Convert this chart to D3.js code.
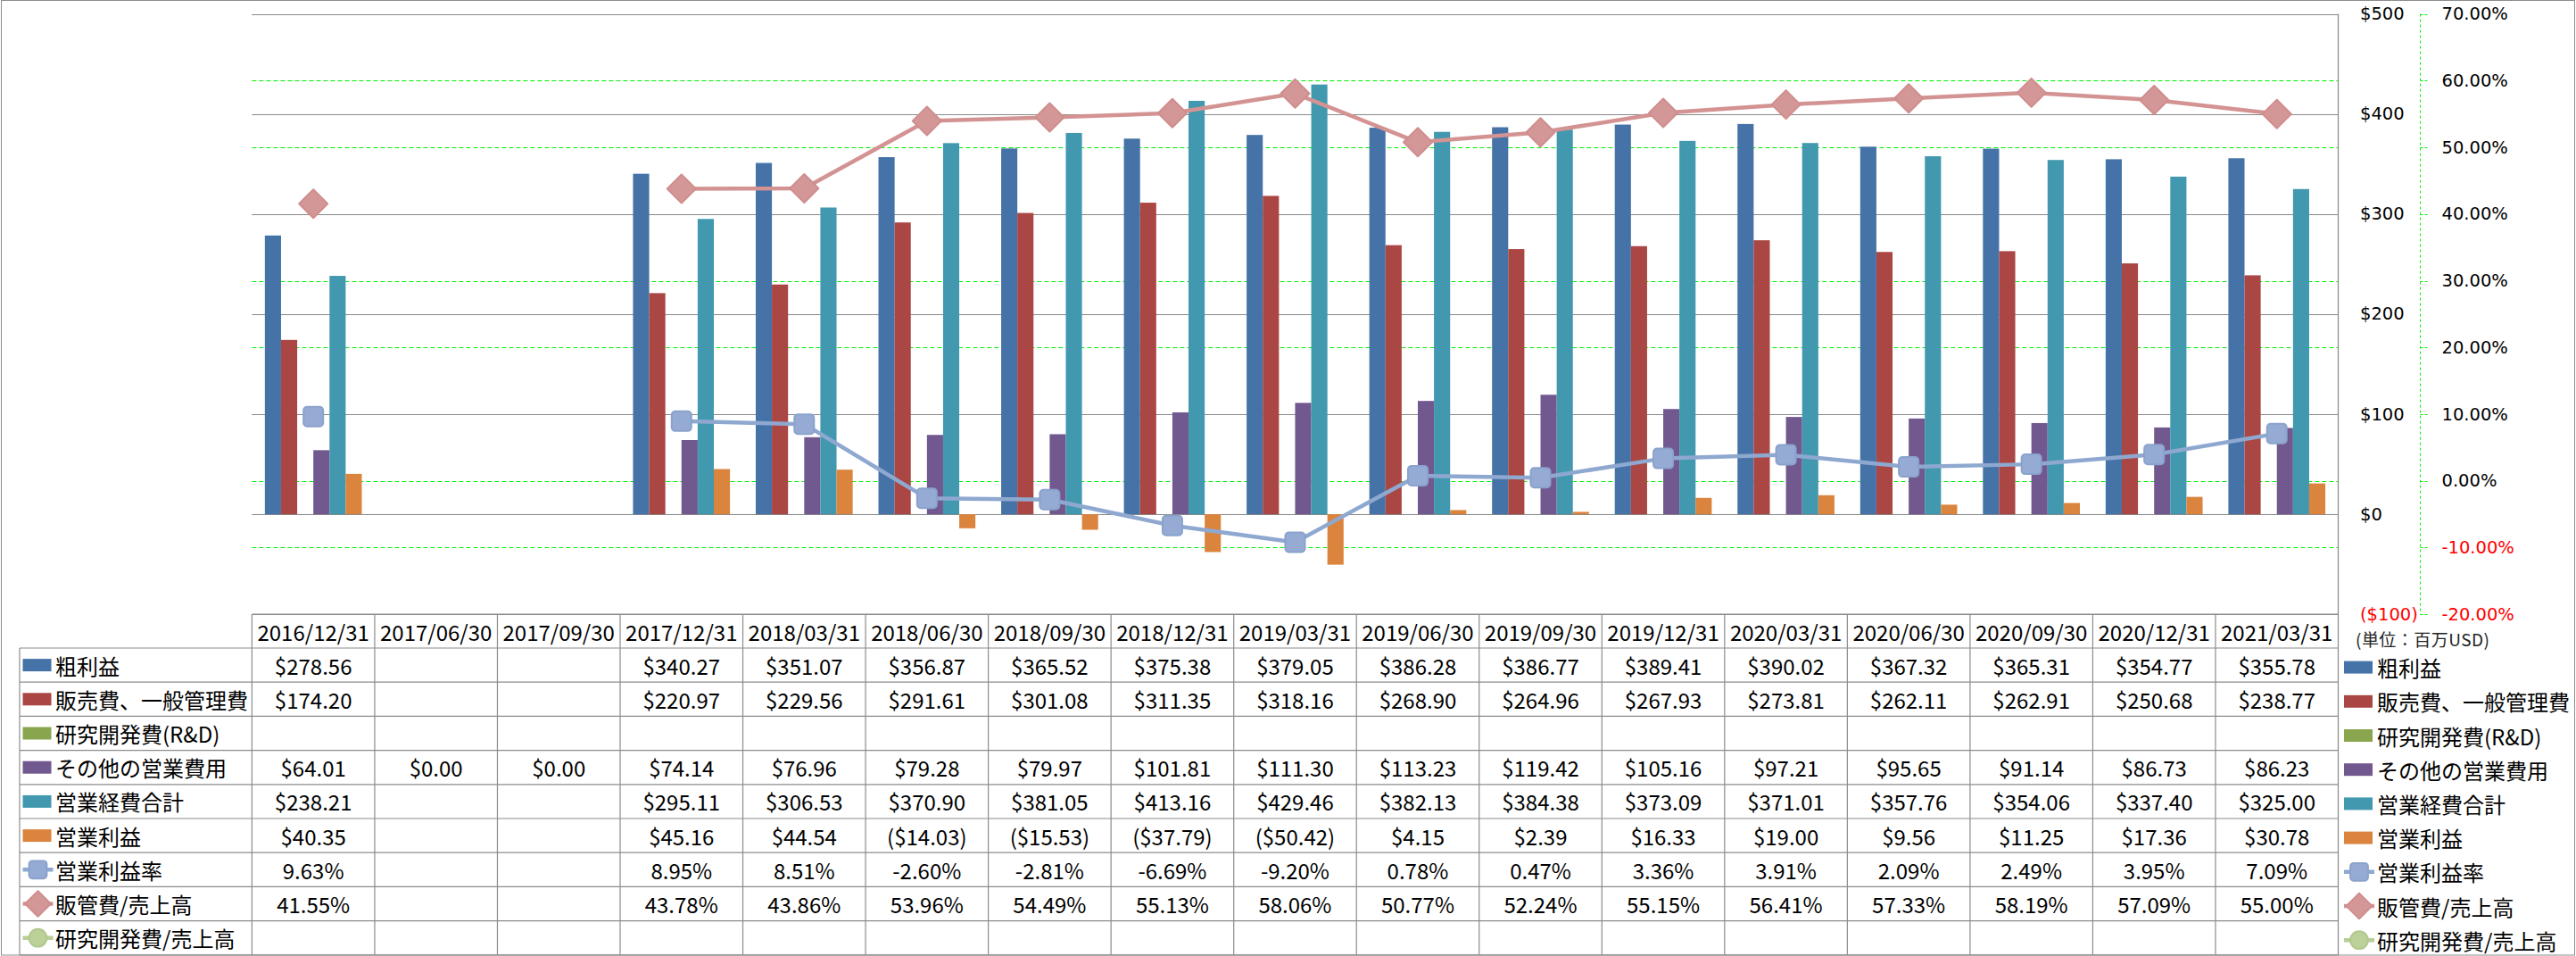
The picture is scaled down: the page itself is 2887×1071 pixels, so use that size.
<!DOCTYPE html>
<html><head><meta charset="utf-8">
<script src="https://cdn.jsdelivr.net/npm/d3@7"></script>
<style>
html,body{margin:0;padding:0;background:#fff;}
svg{display:block;}
</style></head>
<body>
<svg id="chart" width="2887" height="1071"></svg>
<script>
// ---------- DATA ----------
const categories = ["2016/12/31","2017/06/30","2017/09/30","2017/12/31","2018/03/31","2018/06/30","2018/09/30","2018/12/31","2019/03/31","2019/06/30","2019/09/30","2019/12/31","2020/03/31","2020/06/30","2020/09/30","2020/12/31","2021/03/31"];
const seriesNames = ["粗利益","販売費、一般管理費","研究開発費(R&D)","その他の営業費用","営業経費合計","営業利益","営業利益率","販管費/売上高","研究開発費/売上高"];
const grossProfit = [278.56,null,null,340.27,351.07,356.87,365.52,375.38,379.05,386.28,386.77,389.41,390.02,367.32,365.31,354.77,355.78];
const sgaExpense  = [174.20,null,null,220.97,229.56,291.61,301.08,311.35,318.16,268.90,264.96,267.93,273.81,262.11,262.91,250.68,238.77];
const rndExpense  = [null,null,null,null,null,null,null,null,null,null,null,null,null,null,null,null,null];
const otherOpex   = [64.01,0.00,0.00,74.14,76.96,79.28,79.97,101.81,111.30,113.23,119.42,105.16,97.21,95.65,91.14,86.73,86.23];
const totalOpex   = [238.21,null,null,295.11,306.53,370.90,381.05,413.16,429.46,382.13,384.38,373.09,371.01,357.76,354.06,337.40,325.00];
const opIncome    = [40.35,null,null,45.16,44.54,-14.03,-15.53,-37.79,-50.42,4.15,2.39,16.33,19.00,9.56,11.25,17.36,30.78];
const opMargin    = [9.63,null,null,8.95,8.51,-2.60,-2.81,-6.69,-9.20,0.78,0.47,3.36,3.91,2.09,2.49,3.95,7.09];
const sgaRatio    = [41.55,null,null,43.78,43.86,53.96,54.49,55.13,58.06,50.77,52.24,55.15,56.41,57.33,58.19,57.09,55.00];
const rndRatio    = [null,null,null,null,null,null,null,null,null,null,null,null,null,null,null,null,null];
const usdTicks = [-100,0,100,200,300,400,500];
const pctTicks = [-20,-10,0,10,20,30,40,50,60,70];
const unitLabel = "(単位：百万USD)";

// ---------- STYLE / LAYOUT ----------
const barColors = ["#4572A7","#AA4643","#89A54E","#71588F","#4198AF","#DB843D"];
const lineColors = ["#8EA8D0","#D39392","#B9CD96"];
const markerFill = ["#95ABD3","#D49797","#BCD09A"];
const markerStroke = ["#8AA2CC","#CF8E8D","#B3C88E"];
const markerType = ["square","diamond","circle"];
const gridGray = "#898989";
const tableGray = "#8C8C8C";
const green = "#00F000";
const cjk = "'Noto Sans CJK JP','Noto Sans CJK SC',sans-serif";

const plotL = 282.4, plotR = 2620.5, plotT = 15.6, plotB = 688.2;
const rowTop = 726, rowH = 38.2;

const barSeries = [grossProfit, sgaExpense, rndExpense, otherOpex, totalOpex, opIncome];
const lineSeries = [opMargin, sgaRatio, rndRatio];

const svg = d3.select("#chart");

const x0 = d3.scaleBand().domain(categories).range([plotL, plotR]).paddingInner(0.21).paddingOuter(0.105);
const x1 = d3.scaleBand().domain(d3.range(barSeries.length)).range([0, x0.bandwidth()]).padding(0);
const yL = d3.scaleLinear().domain([-100, 500]).range([plotB, plotT]);
const yR = d3.scaleLinear().domain([-20, 70]).range([plotB, plotT]);
const xc = c => x0(c) + x0.bandwidth() / 2;

// outer border
svg.append("rect").attr("x",1.5).attr("y",0.5).attr("width",2884).attr("height",1069.5)
  .attr("fill","none").attr("stroke","#8c8c8c").attr("stroke-width",1);

// green dashed gridlines (secondary axis)
svg.append("g").selectAll("line").data(pctTicks).join("line")
  .attr("x1",plotL).attr("x2",plotR)
  .attr("y1",d=>Math.round(yR(d))+0.5).attr("y2",d=>Math.round(yR(d))+0.5)
  .attr("stroke",green).attr("stroke-width",1.2).attr("stroke-dasharray","5,3");

// gray gridlines (primary axis)
svg.append("g").selectAll("line").data(usdTicks).join("line")
  .attr("x1",plotL).attr("x2",plotR)
  .attr("y1",d=>Math.round(yL(d))+0.5).attr("y2",d=>Math.round(yL(d))+0.5)
  .attr("stroke",gridGray).attr("stroke-width",1.2);

// right vertical border of plot + table
svg.append("line").attr("x1",plotR).attr("x2",plotR).attr("y1",plotT).attr("y2",1070)
  .attr("stroke",gridGray).attr("stroke-width",1.2);

// bars
const barG = svg.append("g");
barSeries.forEach((arr, si) => {
  barG.append("g").selectAll("rect")
    .data(categories.map((c,i)=>({c, v:arr[i]})).filter(d=>d.v!==null))
    .join("rect")
    .attr("x", d => x0(d.c) + x1(si))
    .attr("width", x1.bandwidth())
    .attr("y", d => yL(Math.max(0,d.v)))
    .attr("height", d => Math.abs(yL(d.v) - yL(0)))
    .attr("fill", barColors[si]);
});

// marker drawing helper
function drawMarker(g, type, cx, cy, k, scale=1){
  if(type==="square"){
    const s = 22*scale;
    g.append("rect").attr("x",cx-s/2).attr("y",cy-s/2).attr("width",s).attr("height",s)
      .attr("rx",4*scale).attr("fill",markerFill[k]).attr("stroke",markerStroke[k]).attr("stroke-width",2);
  } else if(type==="diamond"){
    const r = 16*scale;
    g.append("path").attr("d",`M${cx},${cy-r}L${cx+r},${cy}L${cx},${cy+r}L${cx-r},${cy}Z`)
      .attr("fill",markerFill[k]).attr("stroke",markerStroke[k]).attr("stroke-width",2).attr("stroke-linejoin","round");
  } else {
    g.append("circle").attr("cx",cx).attr("cy",cy).attr("r",11*scale)
      .attr("fill",markerFill[k]).attr("stroke",markerStroke[k]).attr("stroke-width",2);
  }
}

// lines (secondary axis)
const lineGen = d3.line().defined(d=>d.v!==null).x(d=>xc(d.c)).y(d=>yR(d.v));
lineSeries.forEach((arr,k)=>{
  const pts = categories.map((c,i)=>({c, v:arr[i]}));
  svg.append("path").datum(pts).attr("d",lineGen).attr("fill","none")
    .attr("stroke",lineColors[k]).attr("stroke-width",4.5).attr("stroke-linejoin","round");
  const mg = svg.append("g");
  pts.filter(d=>d.v!==null).forEach(d=>drawMarker(mg, markerType[k], xc(d.c), yR(d.v), k));
});

// secondary axis line (green dashed) with ticks
const axG = svg.append("g");
axG.append("line").attr("x1",2712.5).attr("x2",2712.5).attr("y1",plotT).attr("y2",plotB)
  .attr("stroke",green).attr("stroke-width",1).attr("stroke-dasharray","3,3");
axG.selectAll("line.t").data(pctTicks).join("line").attr("class","t")
  .attr("x1",2712.5).attr("x2",2721).attr("y1",d=>Math.round(yR(d))+0.5).attr("y2",d=>Math.round(yR(d))+0.5)
  .attr("stroke",green).attr("stroke-width",1).attr("stroke-dasharray","3,2");

// axis labels
const fmtUsdTick = v => v < 0 ? `($${Math.abs(v)})` : `$${v}`;
svg.append("g").selectAll("text").data(usdTicks).join("text")
  .attr("x",2645).attr("y",d=>yL(d)).attr("dominant-baseline","central")
  .attr("font-family","'DejaVu Sans',Verdana,sans-serif").attr("font-size",19.5)
  .attr("fill",d=>d<0?"#FF0000":"#000").text(fmtUsdTick);
svg.append("g").selectAll("text").data(pctTicks).join("text")
  .attr("x",2736.5).attr("y",d=>yR(d)).attr("dominant-baseline","central")
  .attr("font-family","'DejaVu Sans',Verdana,sans-serif").attr("font-size",19.5)
  .attr("fill",d=>d<0?"#FF0000":"#000").text(d=>d.toFixed(2)+"%");

// ---------- DATA TABLE ----------
const tg = svg.append("g");
const tableBottom = rowTop + rowH*seriesNames.length;
tg.append("line").attr("x1",plotL).attr("x2",plotR).attr("y1",plotB).attr("y2",plotB)
  .attr("stroke",tableGray).attr("stroke-width",1.2);
d3.range(seriesNames.length+1).forEach(i=>{
  const yy = rowTop + rowH*i;
  tg.append("line").attr("x1",22).attr("x2",plotR).attr("y1",yy).attr("y2",yy)
    .attr("stroke",tableGray).attr("stroke-width",1.2);
});
tg.append("line").attr("x1",22).attr("x2",22).attr("y1",rowTop).attr("y2",tableBottom)
  .attr("stroke",tableGray).attr("stroke-width",1.2);
categories.forEach(c=>{
  const vx = x0(c)-x0.step()*0.105;
  tg.append("line").attr("x1",vx).attr("x2",vx)
    .attr("y1",plotB).attr("y2",tableBottom).attr("stroke",tableGray).attr("stroke-width",1.2);
});
tg.selectAll("text.h").data(categories).join("text").attr("class","h")
  .attr("x",d=>xc(d)).attr("y",plotB+19).attr("text-anchor","middle").attr("dominant-baseline","central")
  .attr("font-family",cjk).attr("font-size",24).attr("fill","#000").text(d=>d);

const allSeries = [...barSeries, ...lineSeries];
const fmtUsd = v => v < 0 ? `($${Math.abs(v).toFixed(2)})` : `$${v.toFixed(2)}`;
const fmtPct = v => `${v.toFixed(2)}%`;

function legendSymbol(g, i, x, cy){
  if(i < barSeries.length){
    g.append("rect").attr("x",x).attr("y",cy-7).attr("width",32).attr("height",14).attr("fill",barColors[i]);
  } else {
    const k = i - barSeries.length;
    g.append("line").attr("x1",x).attr("x2",x+34).attr("y1",cy).attr("y2",cy)
      .attr("stroke",lineColors[k]).attr("stroke-width",4.5);
    drawMarker(g, markerType[k], x+17, cy, k, 0.9);
  }
}

seriesNames.forEach((name,i)=>{
  const cy = rowTop + rowH*i + rowH/2;
  legendSymbol(tg, i, 25.5, cy);
  tg.append("text").attr("x",62).attr("y",cy).attr("dominant-baseline","central")
    .attr("font-family",cjk).attr("font-size",24).attr("fill","#000").text(name);
  const arr = allSeries[i];
  const fmt = i < barSeries.length ? fmtUsd : fmtPct;
  categories.forEach((c,j)=>{
    if(arr[j]===null) return;
    tg.append("text").attr("x",xc(c)).attr("y",cy).attr("text-anchor","middle").attr("dominant-baseline","central")
      .attr("font-family",cjk).attr("font-size",24).attr("fill","#000").text(fmt(arr[j]));
  });
});

// ---------- RIGHT LEGEND ----------
const lg = svg.append("g");
lg.append("text").attr("x",2640).attr("y",715).attr("dominant-baseline","central")
  .attr("font-family",cjk).attr("font-size",19).attr("fill","#222")
  .attr("textLength",150).attr("lengthAdjust","spacing").text(unitLabel);
seriesNames.forEach((name,i)=>{
  const cy = rowTop + rowH*i + rowH/2 + 2.5;
  legendSymbol(lg, i, 2627, cy);
  lg.append("text").attr("x",2664).attr("y",cy).attr("dominant-baseline","central")
    .attr("font-family",cjk).attr("font-size",24).attr("fill","#000").text(name);
});
</script>
</body></html>
